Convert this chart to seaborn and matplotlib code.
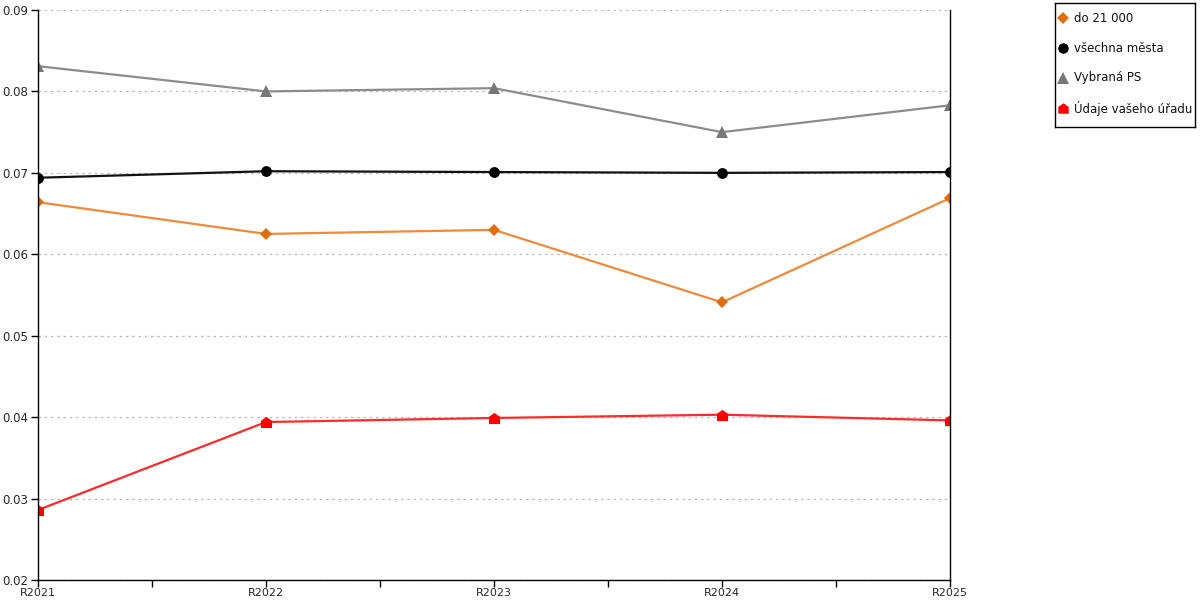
import numpy as np
import pandas as pd
import matplotlib
matplotlib.use("Agg")
import matplotlib.pyplot as plt
from matplotlib.path import Path
from matplotlib.ticker import FixedLocator, FormatStrFormatter
import seaborn as sns

# data
years = ["R2021", "R2022", "R2023", "R2024", "R2025"]
do_21000 = [0.0664, 0.0625, 0.0630, 0.0541, 0.0669]
vsechna_mesta = [0.0694, 0.0702, 0.0701, 0.0700, 0.0701]
vybrana_ps = [0.0831, 0.0800, 0.0804, 0.0750, 0.0783]
udaje_uradu = [0.0286, 0.0394, 0.0399, 0.0403, 0.0396]

series_names = ["do 21 000", "všechna města", "Vybraná PS", "Údaje vašeho úřadu"]

sns.set_style("white")
plt.rcParams['font.family'] = ['DejaVu Sans']

# house shaped marker for the office data
house = Path([(-1, -1), (1, -1), (1, 0.3), (0, 1), (-1, 0.3), (-1, -1)],
             [Path.MOVETO, Path.LINETO, Path.LINETO, Path.LINETO, Path.LINETO, Path.CLOSEPOLY])

styles = [
    (do_21000, "#f0893a", "#e06d10", "D", 6.5),
    (vsechna_mesta, "#111111", "#000000", "o", 7.8),
    (vybrana_ps, "#8c8c8c", "#777777", "^", 8.5),
    (udaje_uradu, "#ff2a2a", "#ff0000", house, 8),
]

fig = plt.figure(figsize=(12, 6), dpi=100)
ax = fig.add_axes([38 / 1200, 20 / 600, (950 - 38) / 1200, (580 - 10) / 600])

x = np.arange(len(years))
for name, (vals, lc, mc, mk, ms) in zip(series_names, styles):
    df = pd.DataFrame({"x": x, "y": vals})
    sns.lineplot(data=df, x="x", y="y", ax=ax, color=lc, linewidth=1.6,
                 marker=mk, markersize=ms, markerfacecolor=mc,
                 markeredgecolor=mc, markeredgewidth=0)

ax.set_xlim(0, len(years) - 1)
ax.set_ylim(0.02, 0.09)
ax.set_xlabel("")
ax.set_ylabel("")
ax.set_xticks(x)
ax.set_xticklabels(years)
ax.xaxis.set_minor_locator(FixedLocator(x[:-1] + 0.5))
ax.set_yticks(np.arange(0.02, 0.0901, 0.01))
ax.yaxis.set_major_formatter(FormatStrFormatter("%.2f"))
ax.tick_params(axis="y", which="major", direction="out", length=5, width=1,
               color="black", labelsize=8.5, pad=2, left=True)
ax.tick_params(axis="x", which="major", direction="out", length=5, width=1,
               color="black", labelsize=8, pad=0.5, bottom=True)
ax.tick_params(axis="x", which="minor", direction="out", length=5, width=1,
               color="black", bottom=True)
ax.grid(axis="y", linestyle=(0, (2, 3)), color="#bbbbbb", linewidth=0.9)
ax.grid(axis="x", visible=False)
ax.set_axisbelow(True)

for side in ["left", "right", "bottom"]:
    ax.spines[side].set_visible(True)
    ax.spines[side].set_color("black")
    ax.spines[side].set_linewidth(1)
ax.spines["top"].set_visible(False)

# legend drawn in its own small box, like the original
lax = fig.add_axes([1055 / 1200, 1 - 127 / 600, 140 / 1200, 124 / 600])
lax.set_xlim(0, 140)
lax.set_ylim(124, 0)
lax.set_xticks([])
lax.set_yticks([])
for s in lax.spines.values():
    s.set_visible(True)
    s.set_color("black")
    s.set_linewidth(1)
leg_sizes = [6, 7.5, 8, 7.5]
for i, (name, (vals, lc, mc, mk, ms)) in enumerate(zip(series_names, styles)):
    yy = 15 + 30 * i
    lax.plot([8], [yy], linestyle="none", marker=mk, markersize=leg_sizes[i],
             color=mc, markeredgewidth=0)
    lax.text(19, yy, name, fontsize=8.5, va="center", ha="left", color="#111111")

fig.savefig("out.png", dpi=100)
